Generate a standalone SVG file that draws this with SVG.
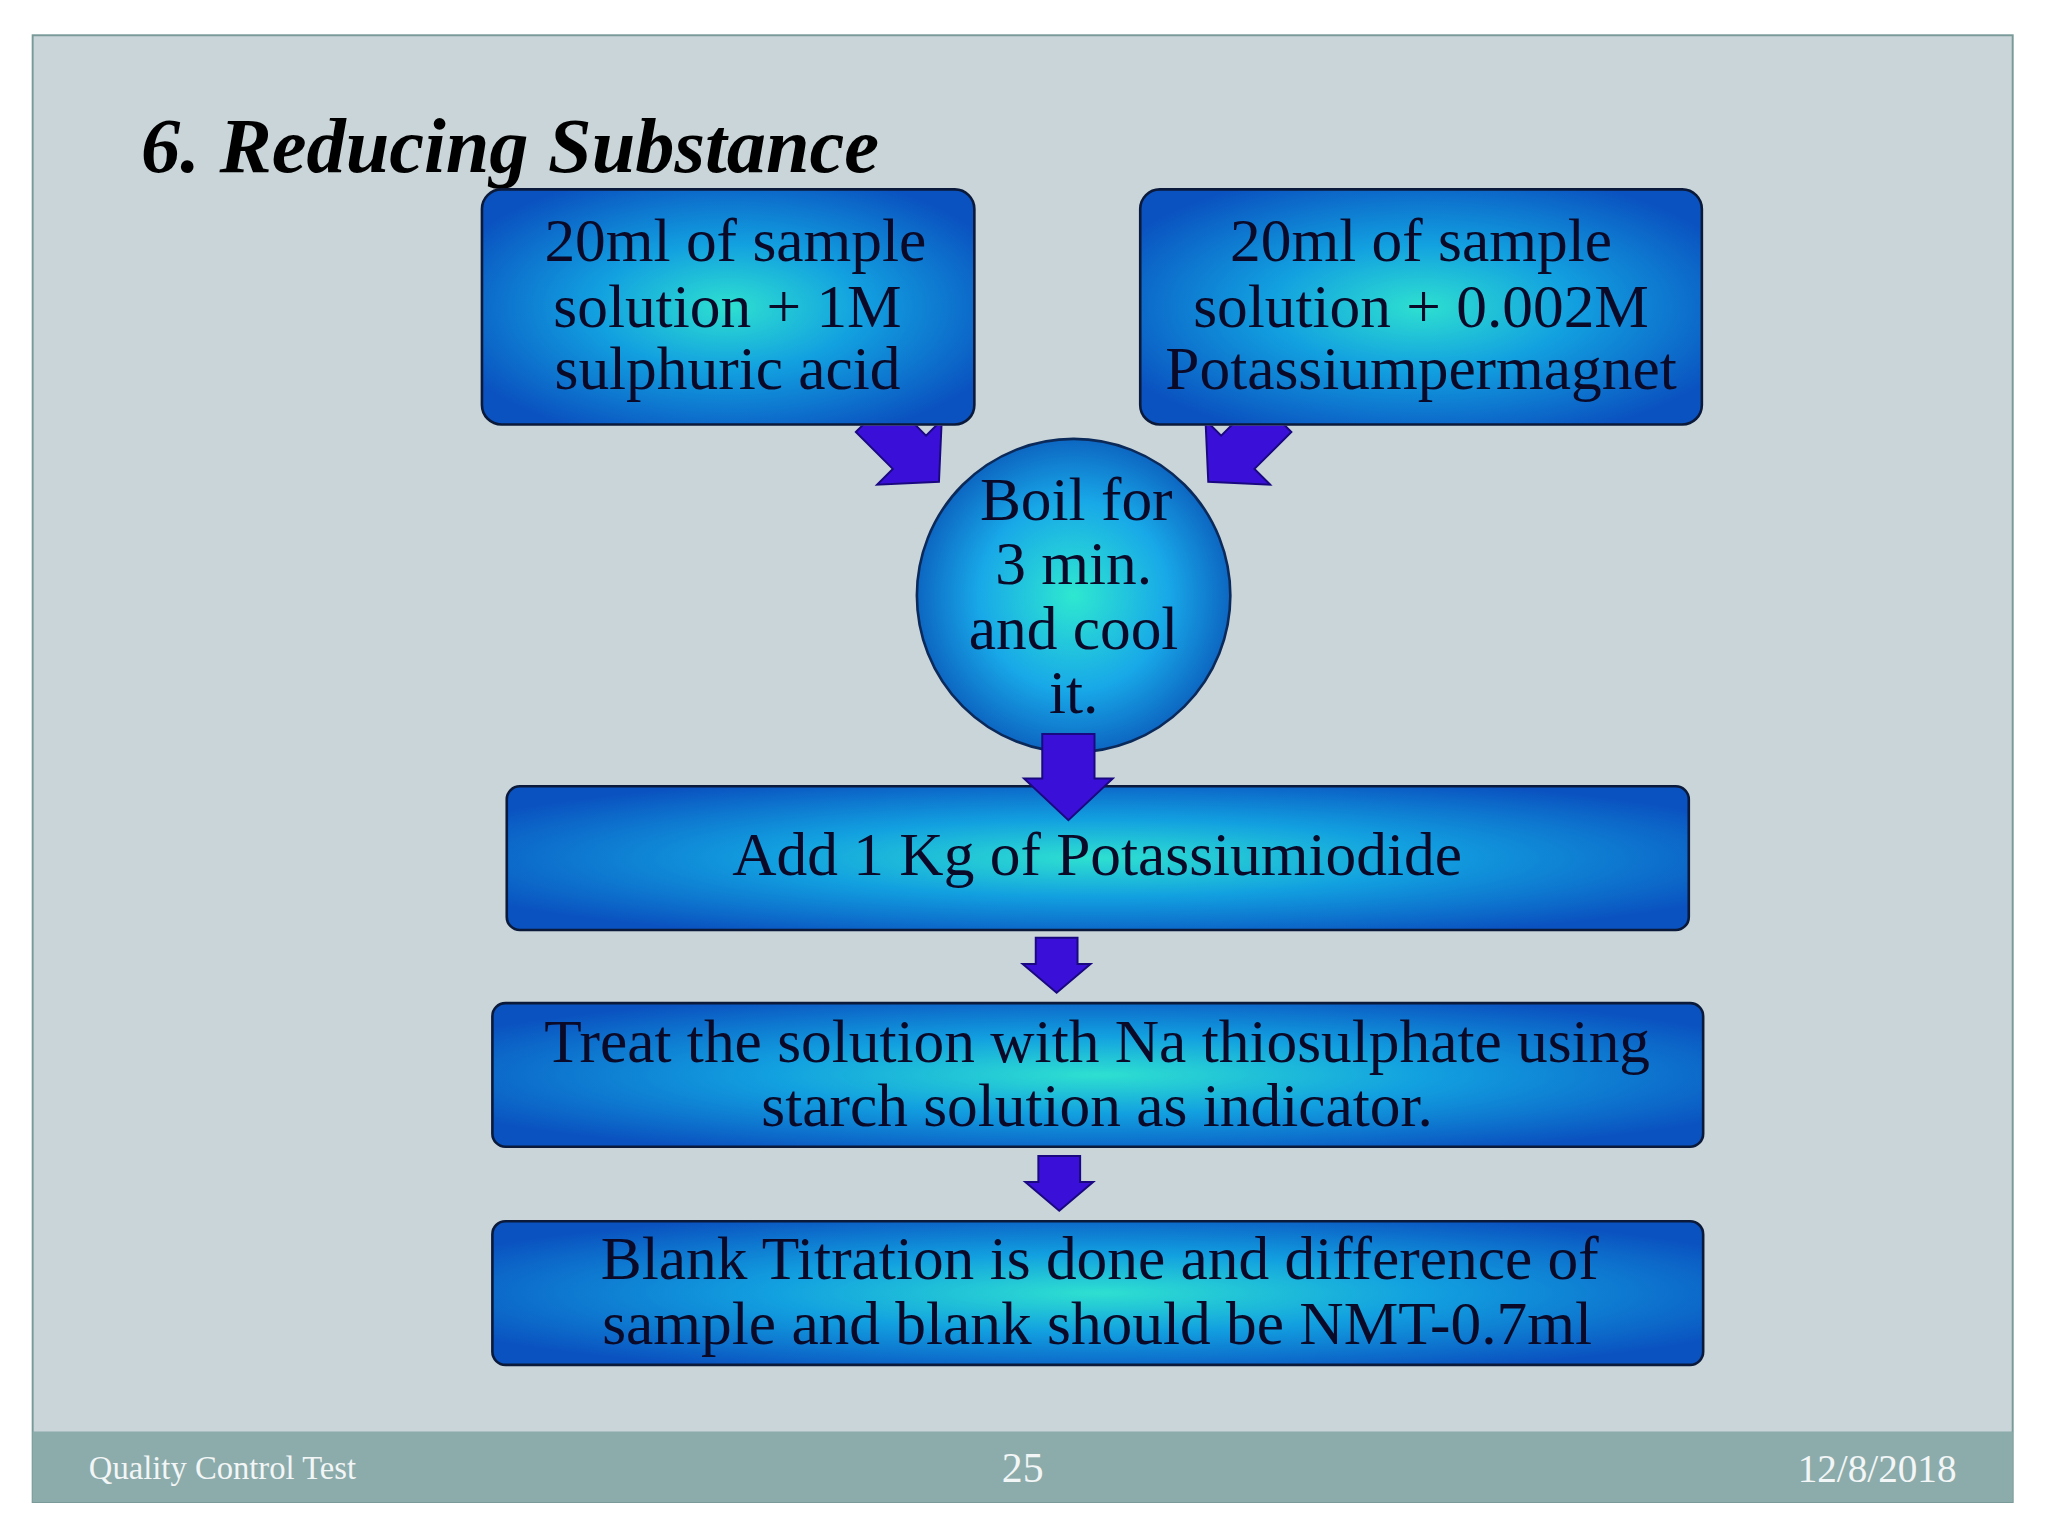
<svg xmlns="http://www.w3.org/2000/svg" width="2048" height="1536" viewBox="0 0 2048 1536">
<defs>
<radialGradient id="g" cx="50%" cy="50%" r="60%">
<stop offset="0" stop-color="#2ee0d0"/>
<stop offset="0.45" stop-color="#12a0e0"/>
<stop offset="1" stop-color="#0a52c0"/>
</radialGradient>
<radialGradient id="gc" cx="50%" cy="50%" r="55%">
<stop offset="0" stop-color="#2ee8d0"/>
<stop offset="0.55" stop-color="#18a8e8"/>
<stop offset="1" stop-color="#0a56b8"/>
</radialGradient>
<path id="arr" d="M-18,0 H18 V40 H35 L0,72 L-35,40 H-18 Z"/>
<clipPath id="below"><rect x="0" y="326" width="1600" height="200"/></clipPath>
</defs>
<style>
.box{fill:url(#g);stroke:#0b1a3a;stroke-width:2}
.t{font-family:"Liberation Serif",serif;font-size:47px;fill:#0a0a28;text-anchor:middle}
.a{fill:#3a10d8;stroke:#1a0880;stroke-width:1.5}
.f{font-family:"Liberation Serif",serif;fill:#f2f6f6}
</style>
<rect width="2048" height="1536" fill="#ffffff"/>
<g transform="scale(1.3061)">
<rect x="25" y="27" width="1516" height="1123" fill="#c9d5d9" stroke="#7a9a9a" stroke-width="1.5"/>
<rect x="25" y="1096" width="1516" height="54" fill="#8cabab"/>
<text x="108" y="132" font-family="Liberation Serif,serif" font-size="60" font-weight="bold" font-style="italic" fill="#000">6. Reducing Substance</text>
<g id="n1"><rect class="box" x="369" y="145" width="377" height="180" rx="15"/>
<text class="t" x="563" y="200">20ml of sample</text><text class="t" x="557" y="250">solution + 1M</text><text class="t" x="557" y="298">sulphuric acid</text></g>
<g id="n2"><rect class="box" x="873" y="145" width="430" height="180" rx="15"/>
<text class="t" x="1088" y="200">20ml of sample</text><text class="t" x="1088" y="250">solution + 0.002M</text><text class="t" x="1088" y="298">Potassiumpermagnet</text></g>
<g id="n3"><circle cx="822" cy="456" r="120" fill="url(#gc)" stroke="#0b2a5a" stroke-width="2"/>
<text class="t" x="824" y="398">Boil for</text><text class="t" x="822" y="447">3 min.</text><text class="t" x="822" y="497">and cool</text><text class="t" x="822" y="546">it.</text></g>
<g id="n4"><rect class="box" x="388" y="602" width="905" height="110" rx="10"/>
<text class="t" x="840" y="670">Add 1 Kg of Potassiumiodide</text></g>
<g id="n5"><rect class="box" x="377" y="768" width="927" height="110" rx="10"/>
<text class="t" x="840" y="813">Treat the solution with Na thiosulphate  using</text><text class="t" x="840" y="862">starch solution as indicator.</text></g>
<g id="n6"><rect class="box" x="377" y="935" width="927" height="110" rx="10"/>
<text class="t" x="842" y="979">Blank Titration is done and difference of</text><text class="t" x="840" y="1029">sample and blank should be NMT-0.7ml</text></g>
<g id="connectors">
<g clip-path="url(#below)">
<use href="#arr" class="a" transform="translate(668,318) rotate(-45)"/>
<use href="#arr" class="a" transform="translate(976,318) rotate(45)"/>
</g>
<path class="a" d="M798,562 H838 V596 H852 L818,628 L784,596 H798 Z"/>
<path class="a" d="M793,718 H825 V738 H835 L809,760 L783,738 H793 Z"/>
<path class="a" d="M795,885 H827 V905 H837 L811,927 L785,905 H795 Z"/>
</g>
<text class="f" x="68" y="1132" font-size="25">Quality Control Test</text>
<text class="f" x="783" y="1135" font-size="32" text-anchor="middle">25</text>
<text class="f" x="1498" y="1135" font-size="30" text-anchor="end">12/8/2018</text>
</g>
</svg>
